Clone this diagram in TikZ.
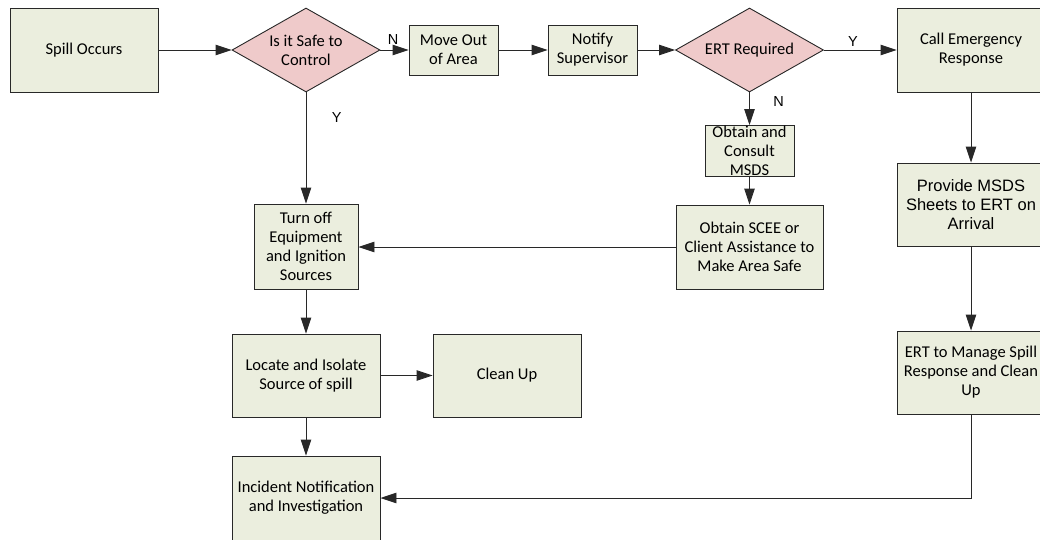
\documentclass[tikz,border=0pt]{standalone}
\usepackage{fontspec}
\setmainfont{Carlito}
\newfontfamily\arialfont{Liberation Sans}
\usetikzlibrary{shapes.geometric,arrows.meta}
\definecolor{boxgreen}{RGB}{235,238,222}
\definecolor{decpink}{RGB}{239,202,202}
\definecolor{linegray}{RGB}{40,40,40}

\begin{document}
\begin{tikzpicture}[x=1pt, y=-1pt,
    box/.style={draw=linegray, fill=boxgreen, line width=0.9pt, inner sep=0pt, align=center, font=\fontsize{16.5}{19}\selectfont},
    decision/.style={diamond, draw=linegray, fill=decpink, line width=0.9pt, inner sep=0pt, aspect=1.76, minimum width=148pt, minimum height=84pt, align=center, font=\fontsize{16.5}{19}\selectfont},
    flow/.style={draw=linegray, line width=0.9pt, -{Triangle[length=16pt,width=10.5pt]}},
    yn/.style={font=\arialfont\fontsize{14.5}{16}\selectfont}]
            \useasboundingbox (0,0) rectangle (1040,539);
            % top row
            \node[box, minimum width=148pt, minimum height=84pt] (spill) at (84,50) {Spill Occurs};
            \node[decision] (safe) at (306,50) {Is it Safe to\\Control};
            \node[box, minimum width=89pt, minimum height=50pt] (move) at (453.5,50) {Move Out\\of Area};
            \node[box, minimum width=89pt, minimum height=50pt] (notify) at (592.5,50) {Notify\\Supervisor};
            \node[decision] (ert) at (749.5,50) {ERT Required};
            \node[box, minimum width=148pt, minimum height=84pt] (call) at (971,50) {Call Emergency\\Response};
            % right side
            \node[box, minimum width=89pt, minimum height=51pt] (consult) at (749.5,151) {Obtain and\\Consult\\MSDS};
            \node[box, minimum width=147pt, minimum height=84pt] (scee) at (749.5,247) {Obtain SCEE or\\Client Assistance to\\Make Area Safe};
            \node[box, minimum width=148pt, minimum height=83pt, font=\arialfont\fontsize{16.5}{19}\selectfont] (provide) at (971,204.5) {Provide MSDS\\Sheets to ERT on\\Arrival};
            \node[box, minimum width=148pt, minimum height=83pt] (manage) at (971,372.5) {ERT to Manage Spill\\Response and Clean\\Up};
            % left column
            \node[box, minimum width=104pt, minimum height=85pt] (turnoff) at (306,246.5) {Turn off\\Equipment\\and Ignition\\Sources};
            \node[box, minimum width=148pt, minimum height=83pt] (locate) at (306,375.5) {Locate and Isolate\\Source of spill};
            \node[box, minimum width=148pt, minimum height=83pt] (cleanup) at (507,375.5) {Clean Up};
            \node[box, minimum width=148pt, minimum height=84pt] (incident) at (306,498) {Incident Notification\\and Investigation};

            \draw[flow] (spill) -- (safe);
            \draw[flow] (safe) -- (move) node[pos=0.45, above=2pt, yn] {N};
            \draw[flow] (move) -- (notify);
            \draw[flow] (notify) -- (ert);
            \draw[flow] (ert) -- (call) node[pos=0.4, above, yn] {Y};
            \draw[flow] (ert) -- (consult) node[pos=0.27, right=20pt, yn] {N};
            \draw[flow] (consult) -- (scee);
            \draw[flow] (call) -- (provide);
            \draw[flow] (provide) -- (manage);
            \draw[flow] (safe) -- (turnoff) node[pos=0.23, right=22pt, yn] {Y};
            \draw[flow] (scee.west) -- (scee.west -| turnoff.east);
            \draw[flow] (turnoff) -- (locate);
            \draw[flow] (locate) -- (cleanup);
            \draw[flow] (locate) -- (incident);
            \draw[flow] (manage.south) |- (incident.east);
            \end{tikzpicture}
\end{document}
